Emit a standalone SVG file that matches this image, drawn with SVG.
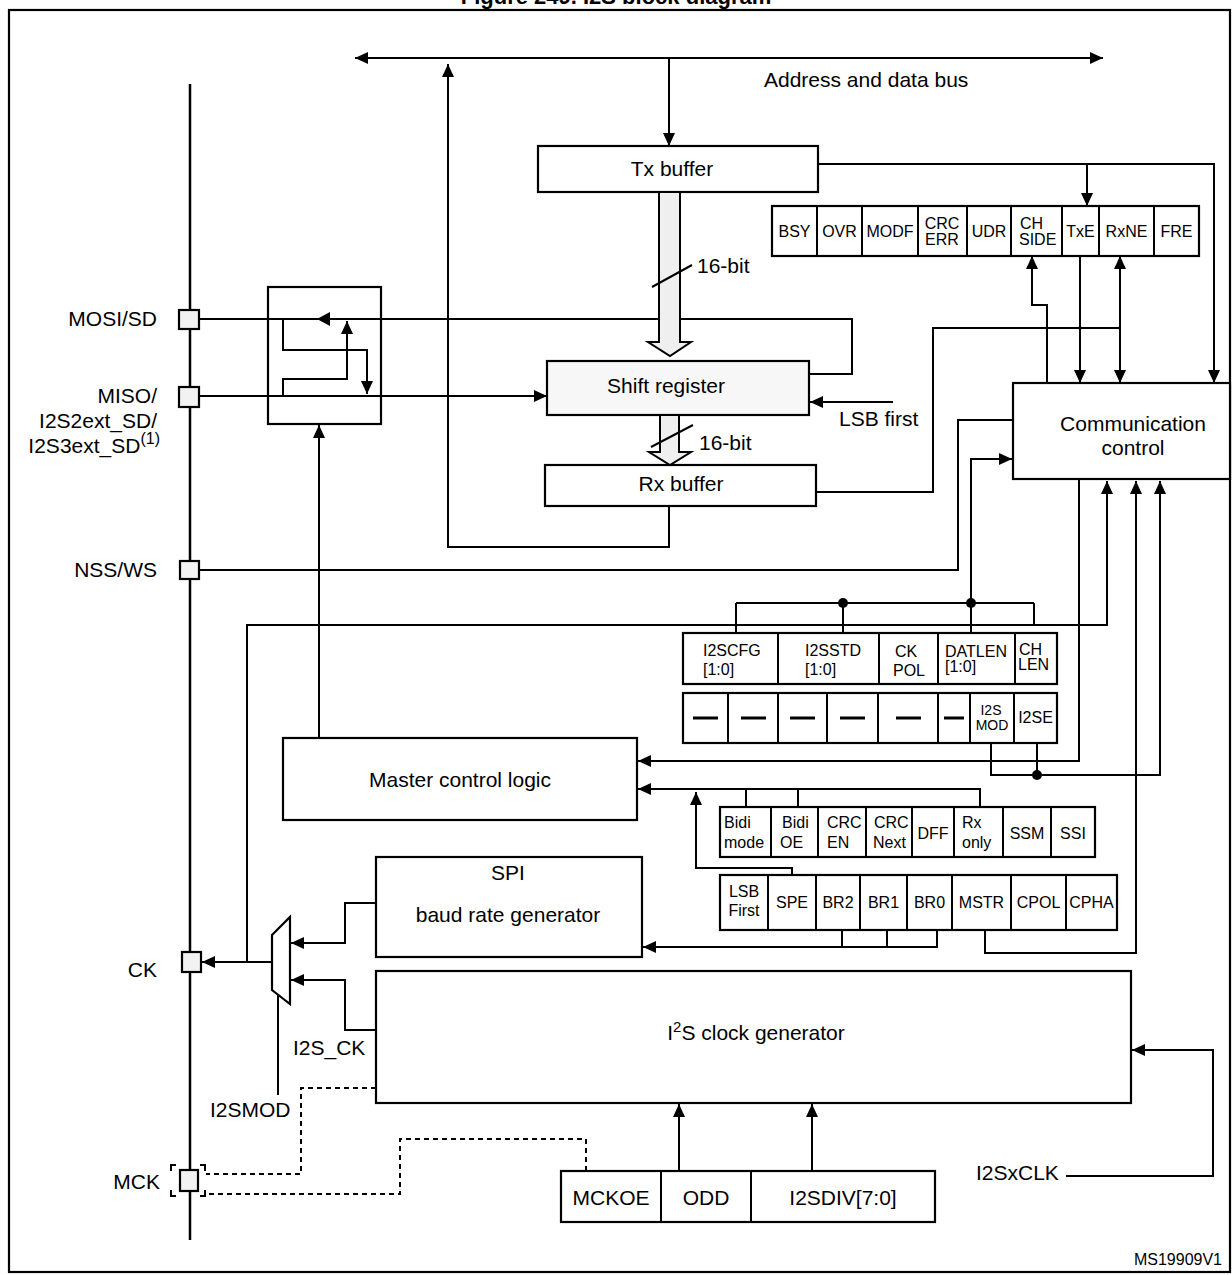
<svg xmlns="http://www.w3.org/2000/svg" width="1232" height="1275" viewBox="0 0 1232 1275">
<defs>
<marker id="ah" markerUnits="userSpaceOnUse" markerWidth="14" markerHeight="14" refX="13" refY="7" orient="auto-start-reverse" viewBox="0 0 14 14"><path d="M0,1 L13,7 L0,13 z" fill="#000"/></marker>
</defs>
<style>
text{font-family:"Liberation Sans",Arial,sans-serif;fill:#000}
.l{font-size:21px}
.s{font-size:16px}
.m{text-anchor:middle}
.e{text-anchor:end}
.box{fill:#fff;stroke:#000;stroke-width:2.2}
.nofill{fill:none;stroke:#000;stroke-width:2.2}
.pin{fill:#f2f2f2;stroke:#000;stroke-width:2.2}
.w{fill:none;stroke:#000;stroke-width:2}
.a{marker-end:url(#ah)}
.d{fill:none;stroke:#000;stroke-width:2;stroke-dasharray:5,4}
.dash{stroke:#000;stroke-width:3}
</style>
<rect width="1232" height="1275" fill="#fff"/>
<text x="616" y="4" class="m" style="font-size:22px;font-weight:bold">Figure 249. I2S block diagram</text>
<rect x="9" y="10" width="1221" height="1262" class="nofill"/>

<g id="nodes">
<line x1="190" y1="84" x2="190" y2="1240" stroke="#000" stroke-width="2.5"/>
<g id="pin-mosi"><rect x="179" y="310" width="20" height="19" class="pin"/><text x="157" y="326" class="l e">MOSI/SD</text></g>
<g id="pin-miso"><rect x="179" y="387" width="20" height="20" class="pin"/>
<text x="157" y="403" class="l e">MISO/</text>
<text x="157" y="428" class="l e">I2S2ext_SD/</text>
<text x="160" y="453" class="l e">I2S3ext_SD<tspan dy="-9" style="font-size:16px">(1)</tspan></text></g>
<g id="pin-nss"><rect x="180" y="561" width="19" height="18" class="pin"/><text x="157" y="577" class="l e">NSS/WS</text></g>
<g id="pin-ck"><rect x="182" y="952" width="19" height="20" class="pin"/><text x="157" y="977" class="l e">CK</text></g>
<g id="pin-mck"><rect x="180" y="1170" width="18" height="21" class="pin"/>
<path d="M176,1165 H171 V1171 M200,1165 H205 V1171 M171,1190 V1196 H176 M205,1190 V1196 H200" class="w"/>
<text x="160" y="1189" class="l e">MCK</text></g>

<g id="switch"><rect x="268" y="287" width="113" height="137" class="nofill"/></g>

<g id="txbuf"><rect x="538" y="146" width="280" height="46" class="box"/><text x="672" y="176" class="l m">Tx buffer</text></g>
<g id="shiftreg"><rect x="547" y="361" width="262" height="54" fill="#f7f7f7" stroke="#000" stroke-width="2.2"/><text x="666" y="393" class="l m">Shift register</text></g>
<g id="rxbuf"><rect x="545" y="465" width="271" height="41" class="box"/><text x="681" y="491" class="l m">Rx buffer</text></g>

<g id="status">
<rect x="772" y="206" width="427" height="50" class="box"/>
<path d="M817,206V256M862,206V256M918,206V256M967,206V256M1011,206V256M1062,206V256M1099,206V256M1154,206V256" class="w"/>
<text x="794.5" y="237" class="s m">BSY</text>
<text x="839.5" y="237" class="s m">OVR</text>
<text x="890" y="237" class="s m">MODF</text>
<text x="942" y="229" class="s m">CRC</text><text x="942" y="245" class="s m">ERR</text>
<text x="989" y="237" class="s m">UDR</text>
<text x="1020" y="229" class="s">CH</text><text x="1019" y="245" class="s">SIDE</text>
<text x="1080.5" y="237" class="s m">TxE</text>
<text x="1126.5" y="237" class="s m">RxNE</text>
<text x="1176.5" y="237" class="s m">FRE</text>
</g>

<g id="commctrl"><rect x="1013" y="383" width="217" height="96" class="box"/>
<text x="1133" y="431" class="l m">Communication</text><text x="1133" y="455" class="l m">control</text></g>

<g id="i2scfgr">
<rect x="683" y="633" width="374" height="51" class="box"/>
<path d="M778,633V684M879,633V684M938,633V684M1015,633V684" class="w"/>
<text x="703" y="656" class="s">I2SCFG</text><text x="703" y="675" class="s">[1:0]</text>
<text x="805" y="656" class="s">I2SSTD</text><text x="805" y="675" class="s">[1:0]</text>
<text x="906" y="657" class="s m">CK</text><text x="909" y="676" class="s m">POL</text>
<text x="945" y="657" class="s">DATLEN</text><text x="945" y="672" class="s">[1:0]</text>
<text x="1019" y="655" class="s">CH</text><text x="1018" y="670" class="s">LEN</text>
</g>
<g id="i2scfgr2">
<rect x="683" y="693" width="374" height="50" class="box"/>
<path d="M728,693V743M778,693V743M827,693V743M878,693V743M938,693V743M970,693V743M1014,693V743" class="w"/>
<path d="M693,718H718M741,718H766M790,718H815M840,718H865M896,718H921M944,718H964" class="dash"/>
<text x="991" y="715" class="m" style="font-size:14px">I2S</text><text x="992" y="730" class="m" style="font-size:14px">MOD</text>
<text x="1035.5" y="723" class="s m">I2SE</text>
</g>

<g id="master"><rect x="283" y="738" width="354" height="82" class="box"/><text x="460" y="787" class="l m">Master control logic</text></g>

<g id="cr1a">
<rect x="720" y="807" width="375" height="50" class="box"/>
<path d="M771,807V857M818,807V857M866,807V857M912,807V857M954,807V857M1003,807V857M1051,807V857" class="w"/>
<text x="724" y="828" class="s">Bidi</text><text x="724" y="848" class="s">mode</text>
<text x="782" y="828" class="s">Bidi</text><text x="780" y="848" class="s">OE</text>
<text x="827" y="828" class="s">CRC</text><text x="827" y="848" class="s">EN</text>
<text x="874" y="828" class="s">CRC</text><text x="873" y="848" class="s">Next</text>
<text x="933" y="839" class="s m">DFF</text>
<text x="962" y="828" class="s">Rx</text><text x="962" y="848" class="s">only</text>
<text x="1027" y="839" class="s m">SSM</text>
<text x="1073" y="839" class="s m">SSI</text>
</g>
<g id="cr1b">
<rect x="720" y="875" width="397" height="55" class="box"/>
<path d="M768,875V930M816,875V930M860,875V930M907,875V930M952,875V930M1011,875V930M1066,875V930" class="w"/>
<text x="744" y="897" class="s m">LSB</text><text x="744" y="916" class="s m">First</text>
<text x="792" y="908" class="s m">SPE</text>
<text x="838" y="908" class="s m">BR2</text>
<text x="883.5" y="908" class="s m">BR1</text>
<text x="929.5" y="908" class="s m">BR0</text>
<text x="981.5" y="908" class="s m">MSTR</text>
<text x="1038.5" y="908" class="s m">CPOL</text>
<text x="1091.5" y="908" class="s m">CPHA</text>
</g>

<g id="spibaud"><rect x="376" y="857" width="266" height="100" class="box"/>
<text x="508" y="880" class="l m">SPI</text><text x="508" y="922" class="l m">baud rate generator</text></g>

<g id="i2sclk"><rect x="376" y="971" width="755" height="132" class="box"/>
<text x="756" y="1040" class="l m">I<tspan dy="-8" style="font-size:15px">2</tspan><tspan dy="8">S clock generator</tspan></text></g>

<g id="mux"><polygon points="272,935 290,917 290,1004 272,990" class="box"/></g>

<g id="i2spr"><rect x="561" y="1171" width="374" height="51" class="box"/>
<path d="M661,1171V1222M751,1171V1222" class="w"/>
<text x="611" y="1205" class="l m">MCKOE</text>
<text x="706" y="1205" class="l m">ODD</text>
<text x="843" y="1205" class="l m">I2SDIV[7:0]</text></g>

<g id="labels">
<text x="764" y="87" class="l">Address and data bus</text>
<text x="697" y="273" class="l">16-bit</text>
<text x="699" y="450" class="l">16-bit</text>
<text x="839" y="426" class="l">LSB first</text>
<text x="293" y="1055" class="l">I2S_CK</text>
<text x="210" y="1117" class="l">I2SMOD</text>
<text x="976" y="1180" class="l">I2SxCLK</text>
<text x="1222" y="1265" class="e" style="font-size:16px">MS19909V1</text>
</g>
</g>

<g id="connectors">
<path d="M355,58 H1103" class="w" stroke-width="2.5" marker-start="url(#ah)" marker-end="url(#ah)"/>
<path d="M669,58 V146" class="w a"/>
<path d="M669,506 V547 H448 V64" class="w a"/>
<path d="M818,164 H1214 V383" class="w a"/>
<path d="M1087,164 V206" class="w a"/>
<path d="M1080,256 V383" class="w a"/>
<path d="M1120,328 V256" class="w a"/>
<path d="M1120,328 V383" class="w a"/>
<path d="M816,492 H933 V328 H1120" class="w"/>
<path d="M1047,383 V305 H1032 V256" class="w a"/>
<path d="M199,319 H852 V374 H809" class="w"/>
<polygon points="317,319 330,312 330,326" fill="#000"/>
<path d="M199,396 H547" class="w a"/>
<path d="M283,319 V350 H367 V394" class="w a"/>
<path d="M283,396 V379 H347 V321" class="w a"/>
<path d="M893,402 H810" class="w a"/>
<path d="M199,570 H958 V420 H1013" class="w"/>
<path d="M736,603 H1034 M736,603 V633 M843,603 V633 M1034,603 V625" class="w"/>
<path d="M971,633 V459 H1012" class="w a"/>
<circle cx="843" cy="603" r="5" fill="#000"/>
<circle cx="971" cy="603" r="5" fill="#000"/>
<path d="M247,962 V625 H1107 V481" class="w a"/>
<path d="M1079,479 V761 H638" class="w a"/>
<path d="M991,743 V775 H1160 V481" class="w a"/>
<path d="M1037,743 V775" class="w"/>
<circle cx="1037" cy="775" r="5" fill="#000"/>
<path d="M980,807 V789 H638" class="w a"/>
<path d="M746,789 V807 M798,789 V807" class="w"/>
<path d="M792,875 V868 H696 V792" class="w a"/>
<path d="M842,930 V947 M887,930 V947" class="w"/>
<path d="M937,930 V947 H643" class="w a"/>
<path d="M985,930 V953 H1136 V481" class="w a"/>
<path d="M319,738 V425" class="w a"/>
<path d="M376,903 H345 V943 H291" class="w a"/>
<path d="M376,1030 H345 V980 H291" class="w a"/>
<path d="M272,962 H202" class="w a"/>
<path d="M278,995 V1095" class="w"/>
<path d="M376,1088 H301 V1174 H206" class="d"/>
<path d="M586,1171 V1139 H400 V1194 H206" class="d"/>
<path d="M679,1171 V1104" class="w a"/>
<path d="M812,1171 V1104" class="w a"/>
<path d="M1066,1176 H1213 V1050 H1132" class="w a"/>
</g>

<g id="datapaths">
<polygon points="659,192 680,192 680,342 691,342 670,356 648,342 659,342" fill="#efefef" stroke="#000" stroke-width="2"/>
<polygon points="660,415 679,415 679,452 691,452 670,465 649,452 660,452" fill="#efefef" stroke="#000" stroke-width="2"/>
<path d="M652,287 L692,265 M651,447 L693,425" class="w"/>
</g>
</svg>
